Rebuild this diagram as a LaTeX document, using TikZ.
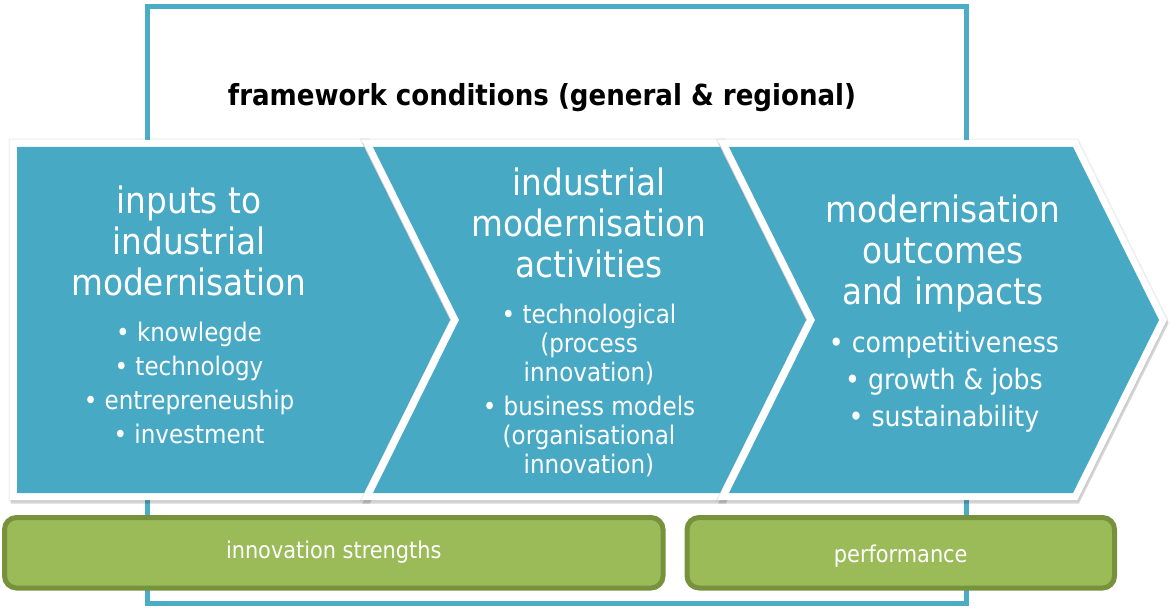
\documentclass[tikz,border=0pt]{standalone}
\usepackage{fontspec}
\setmainfont{DejaVu Sans Condensed}
\usepackage{tikz}
\usetikzlibrary{positioning}
\definecolor{FrameTeal}{RGB}{75,172,198}
\definecolor{ChevTeal}{RGB}{72,169,197}
\definecolor{OliveFill}{RGB}{155,187,89}
\definecolor{OliveLine}{RGB}{118,146,60}

\begin{document}
\begin{tikzpicture}[x=0.5pt, y=-0.5pt,
 frame/.style = {draw=FrameTeal, line width=2.5pt},
 chevhalo/.style = {draw=black, draw opacity=0.05, line width=8.5pt, line join=miter},
 chevshade/.style = {draw=black, draw opacity=0.16, line width=7.5pt, line join=miter,
                     transform canvas={shift={(0.6pt,-1.6pt)}}},
 chevedge/.style = {draw=white, line width=7pt, line join=miter},
 chevron/.style = {fill=ChevTeal, preaction={chevhalo}, preaction={chevshade}, preaction={chevedge}},
 chevtitle/.style = {text=white, align=center, inner sep=0pt, font=\fontsize{18.2}{20.5}\selectfont},
 chevlist/.style = {text=white, align=center, inner sep=0pt, font=\fontsize{12.8}{17}\selectfont},
 olivebox/.style = {draw=OliveLine, line width=2.5pt, fill=OliveFill, rounded corners=6pt,
                    minimum height=35.25pt},
 olivetext/.style = {text=white, inner sep=0pt, font=\fontsize{11.6}{13}\selectfont},
 ]
    \useasboundingbox (0,0) rectangle (1171,608);

    % outer frame and its heading
    \draw [frame] (147,7) rectangle (966,603);
    \node [font=\bfseries\fontsize{14.5}{17}\selectfont] (frameTitle) at (542,98) {framework conditions (general \& regional)};

    % the three chevrons
    \path [chevron] (17,147) -- (364,147) -- (450,320) -- (364,493) -- (17,493) -- cycle;
    \path [chevron] (373,147) -- (720,147) -- (806,320) -- (720,493) -- (373,493) -- (459,320) -- cycle;
    \path [chevron] (729,147) -- (1073,147) -- (1159,320) -- (1073,493) -- (729,493) -- (815,320) -- cycle;

    \node [chevtitle] (inTitle) at (189,241) {inputs to\\industrial\\modernisation};
    \node [chevlist] (inList) at (189,383) {• knowlegde\\• technology\\• entrepreneuship\\• investment};

    \node [chevtitle] (actTitle) at (589,223) {industrial\\modernisation\\activities};
    \node [chevlist, font=\fontsize{12.8}{14.5}\selectfont] (actList) at (589,390.5)
        {• technological\\(process\\innovation)\\[2.5pt]• business models\\(organisational\\innovation)};

    \node [chevtitle] (outTitle) at (943,253.5) {modernisation\\outcomes\\and impacts};
    \node [chevlist, font=\fontsize{14}{18.5}\selectfont] (outList) at (944,382)
        {• competitiveness\\• growth \& jobs\\• sustainability};

    % green bars
    \node [olivebox, minimum width=329.25pt] (strengths) at (333.75,552.75) {};
    \node [olivetext, yshift=0.5pt] at (strengths) {innovation strengths};
    \node [olivebox, minimum width=213.75pt] (performance) at (900.75,552.75) {};
    \node [olivetext, yshift=-1.5pt] at (performance) {performance};
\end{tikzpicture}
\end{document}
